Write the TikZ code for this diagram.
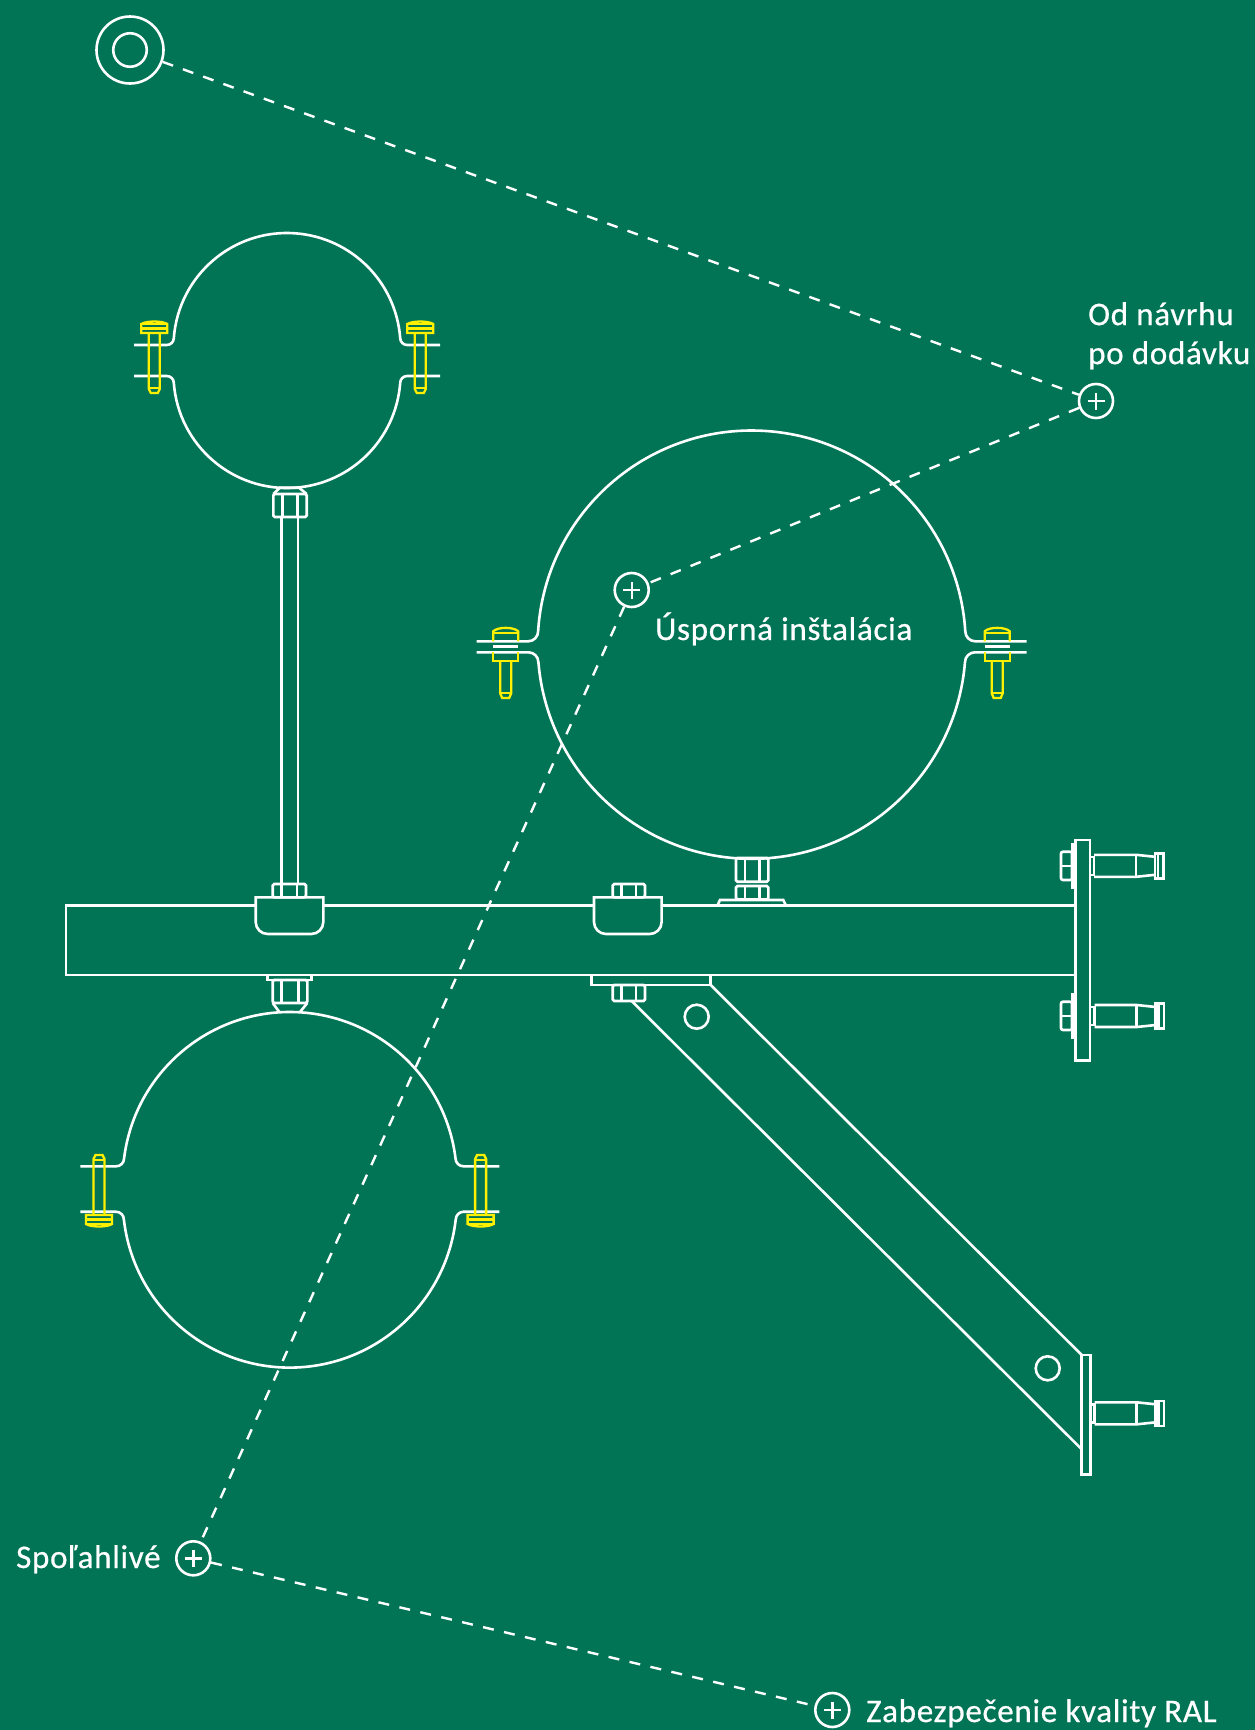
\documentclass[tikz,border=0pt]{standalone}
\usepackage{fontspec}
\setmainfont{Carlito}[LetterSpace=2.2, FakeBold=0.6]
\definecolor{plategreen}{HTML}{017456}
\definecolor{boltyellow}{HTML}{FFF000}
\tikzset{
part/.style={draw=white, line width=2.6pt},
boltline/.style={draw=boltyellow, line width=2.3pt},
leader/.style={draw=white, line width=2.4pt, dash pattern=on 11pt off 10.5pt},
callout/.style={inner sep=0pt, text=white, font=\fontsize{33}{39}\selectfont},
plusmark/.style={circle, draw=white, line width=2.6pt, minimum size=34pt, inner sep=0pt,
  path picture={
    \draw [white, line width=2.4pt] ([xshift=-8.5pt]path picture bounding box.center) -- ([xshift=8.5pt]path picture bounding box.center);
    \draw [white, line width=2.4pt] ([yshift=-8.5pt]path picture bounding box.center) -- ([yshift=8.5pt]path picture bounding box.center);
  }},
ringmark/.style={circle, draw=white, line width=2.6pt, inner sep=0pt},
boltpic/.pic={
  \draw [boltline] (-13,0) -- (-13,-9) .. controls (-8,-12.3) and (8,-12.3) .. (13,-9) -- (13,0) -- cycle;
  \draw [boltline] (-13,-9) -- (13,-9);
  \draw [boltline] (-13,-4.5) -- (13,-4.5);
  \draw [boltline] (-5.5,0) -- (-5.5,56) -- (-3.5,60) -- (3.5,60) -- (5.5,56) -- (5.5,0);
  \draw [boltline] (-5.5,55) -- (5.5,55);
},
longboltpic/.pic={
  \draw [boltline] (-12.5,0) -- (-12.5,-10) .. controls (-8,-14.6) and (8,-14.6) .. (12.5,-10) -- (12.5,0);
  \draw [boltline] (-12.5,-8) -- (12.5,-8);
  \draw [part] (-12.5,5.4) -- (12.5,5.4);
  \draw [boltline] (-12.5,11) -- (-12.5,19.7) -- (12.5,19.7) -- (12.5,11);
  \draw [boltline] (-5.5,19.7) -- (-5.5,52) -- (-3.5,56.7) -- (3.5,56.7) -- (5.5,52) -- (5.5,19.7);
  \draw [boltline] (-5.5,52) -- (5.5,52);
},
anchorpic/.pic={
  \draw [part] (0,-9) -- (4,-9) -- (4,9) -- (0,9);
  \draw [part] (4,-11) -- (46,-11) -- (65,-9);
  \draw [part] (4,11) -- (46,11) -- (65,9);
  \draw [part] (46,-11) -- (46,11);
  \draw [part] (65,-12.5) rectangle (73.3,12.5);
  \draw [part] (68,-12.5) -- (68,12.5);
}
}
\newcommand{\clampband}[8]{
  \pgfmathsetmacro{\upang}{asin((#2+#6-(#3-#8))/#6)}
  \pgfmathsetmacro{\lowang}{asin(((#4+#8)-(#5-#6))/#6)}
  \pgfmathsetmacro{\upx}{#1-#6*cos(\upang)}
  \pgfmathsetmacro{\lowx}{#1-#6*cos(\lowang)}
  \draw [part] (#1-#7,#3) -- (\upx-#8,#3) arc[start angle=90, end angle=0, radius=#8]
    arc[start angle=180+\upang, end angle=360-\upang, radius=#6]
    arc[start angle=180, end angle=90, radius=#8] -- (#1+#7,#3);
  \draw [part] (#1-#7,#4) -- (\lowx-#8,#4) arc[start angle=270, end angle=360, radius=#8]
    arc[start angle=180-\lowang, end angle=\lowang, radius=#6]
    arc[start angle=180, end angle=270, radius=#8] -- (#1+#7,#4);
}
\newcommand{\nutbox}[4]{
  \draw [part, rounded corners=1.5pt] (#1,#2) rectangle (#3,#4);
  \draw [part] (#1+9,#2) -- (#1+9,#4);
  \draw [part] (#3-9,#2) -- (#3-9,#4);
}

\begin{document}
\begin{tikzpicture}[x=1pt, y=1pt, yscale=-1]

  \fill [plategreen] (0,0) rectangle (1255,1730);
  \useasboundingbox (0,0) rectangle (1255,1730);

  \clampband{287}{233}{345}{376}{488}{113.5}{153}{7}
  \clampband{751.7}{430.5}{641.3}{652.3}{858.8}{214}{275}{10}
  \clampband{289.8}{1012}{1166.3}{1211.7}{1367.6}{167}{209.5}{8}

  \draw [part] (255.7,905.7) -- (66,905.7) -- (66,975) -- (1075.3,975);
  \draw [part] (323.3,905.7) -- (594,905.7);
  \draw [part] (661.6,905.7) -- (1075.3,905.7);

  \foreach \bx in {255.7, 594} {
    \draw [part] (\bx,897.3) -- (\bx+67.6,897.3) -- (\bx+67.6,922) arc[start angle=0, end angle=90, radius=12]
      -- (\bx+12,934) arc[start angle=90, end angle=180, radius=12] -- cycle;
  }

  \draw [part] (281.7,517) -- (281.7,884);
  \draw [part] (298,517) -- (298,884);
  \nutbox{273.3}{494}{306.7}{517}
  \draw [part] (273.3,494) -- (280,487.7) -- (299,487.7) -- (306.7,494);
  \nutbox{272.7}{884}{306}{897.3}
  \nutbox{612.7}{884}{645}{897.3}

  \draw [part] (267.3,975) rectangle (311.7,980);
  \nutbox{272.7}{980}{307.3}{1003}
  \draw [part] (272.7,1003) -- (279.3,1012);
  \draw [part] (307.3,1003) -- (300,1012);

  \nutbox{736}{858}{768.3}{881.7}
  \nutbox{736}{886}{768.3}{899.3}
  \draw [part] (717.3,905.7) -- (720,900) -- (783.3,900) -- (786,905.7);

  \draw [part] (591.7,975) rectangle (710.7,985);
  \nutbox{612.7}{985}{645}{1001}
  \draw [part] (710.7,985) -- (1081.7,1355);
  \draw [part] (631.7,1001) -- (1081.7,1449.3);
  \draw [part] (696.7,1016.7) circle (12);
  \draw [part] (1047.7,1368.3) circle (12);

  \draw [part] (1075.3,840) rectangle (1090,1060.7);
  \draw [part] (1081.7,1355) rectangle (1090.7,1474.3);
  \foreach \dy in {0, 150} {
    \draw [part, rounded corners=2pt] (1061,851.7+\dy) rectangle (1072,880+\dy);
    \draw [part] (1061,866+\dy) -- (1072,866+\dy);
    \draw [part] (1075.3,844+\dy) -- (1072.6,844+\dy) -- (1072.6,887.7+\dy) -- (1075.3,887.7+\dy);
  }
  \pic at (1090,865.8) {anchorpic};
  \pic at (1090.7,1016) {anchorpic};
  \pic at (1090.7,1413.3) {anchorpic};

  \pic [yscale=-1] at (154.3,333) {boltpic};
  \pic [yscale=-1] at (420.3,333) {boltpic};
  \pic [yscale=-1] at (505.7,641.3) {longboltpic};
  \pic [yscale=-1] at (997.2,641.3) {longboltpic};
  \pic at (99,1215) {boltpic};
  \pic at (480.6,1215) {boltpic};

  \node (ringouter) [ringmark, minimum size=67pt] at (130,50) {};
  \node (ringinner) [ringmark, minimum size=33.5pt] at (130,50) {};
  \node (plusdesign) [plusmark] at (1096,401) {};
  \node (plussaving) [plusmark] at (631.7,590) {};
  \node (plusreliable) [plusmark] at (193.3,1558.3) {};
  \node (plusquality) [plusmark] at (832.3,1710) {};

  \draw [leader] (ringouter) -- (plusdesign);
  \draw [leader] (plusdesign) -- (plussaving);
  \draw [leader] (plussaving) -- (plusreliable);
  \draw [leader] (plusreliable) -- (plusquality);

  \node (designtext) [callout, anchor=north west, align=left] at (1088,302) {Od návrhu\\po dodávku};
  \node (savingtext) [callout, anchor=base west] at (655,640) {Úsporná inštalácia};
  \node (reliabletext) [callout, anchor=base west] at (16,1568) {Spoľahlivé};
  \node (qualitytext) [callout, anchor=base west] at (866,1722) {Zabezpečenie kvality RAL};

\end{tikzpicture}
\end{document}
